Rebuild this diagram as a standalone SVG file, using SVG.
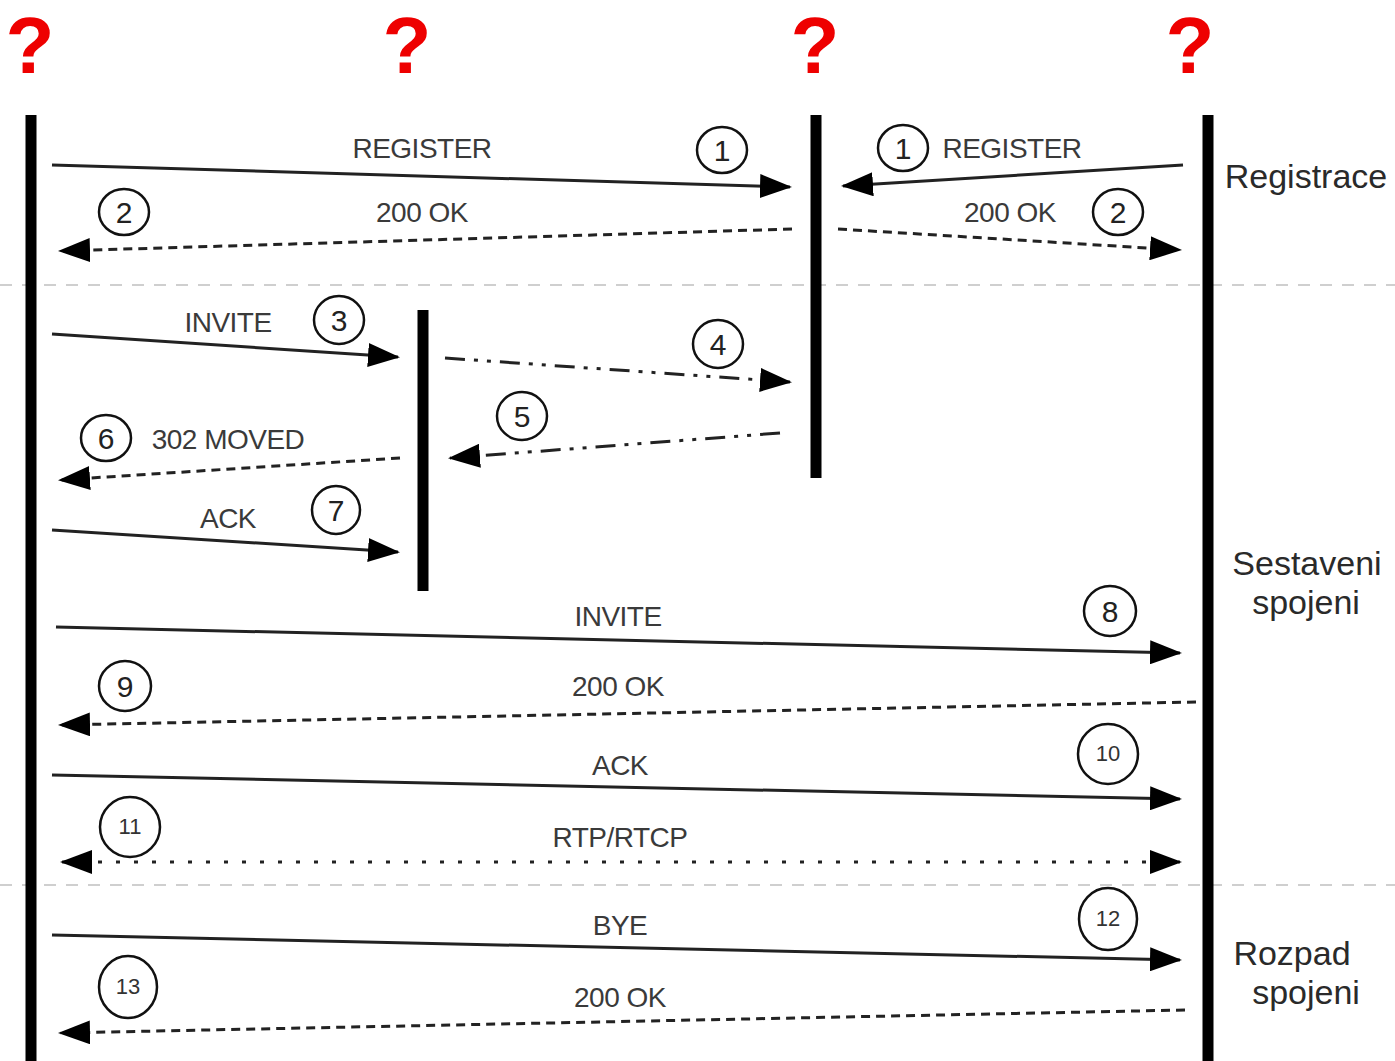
<svg xmlns="http://www.w3.org/2000/svg" width="1395" height="1061" viewBox="0 0 1395 1061">
<style>
.q{font-family:"Liberation Sans",Arial,sans-serif;font-weight:bold;font-size:80px;fill:#ee0000;text-anchor:middle}
.life{stroke:#000;stroke-width:11;fill:none}
.sep{stroke:#cfcfcf;stroke-width:2;stroke-dasharray:12 10;fill:none}
.msg{stroke:#222;stroke-width:3;fill:none}
.dash{stroke-dasharray:9 6}
.dd{stroke-dasharray:20 9 4 9 4 9}
.dot{stroke-dasharray:4 14}
.lbl{font-family:"Liberation Sans",Arial,sans-serif;font-size:28px;fill:#3a3a3a;text-anchor:middle;letter-spacing:-0.5px}
.num{font-family:"Liberation Sans",Arial,sans-serif;font-size:30px;fill:#222;text-anchor:middle}
.num2{font-family:"Liberation Sans",Arial,sans-serif;font-size:22px;fill:#333;text-anchor:middle}
.circ{fill:#fff;stroke:#111;stroke-width:2.5}
.side{font-family:"Liberation Sans",Arial,sans-serif;font-size:34px;fill:#2a2a2a;text-anchor:middle}
</style>
<defs>
<marker id="ah" markerUnits="userSpaceOnUse" markerWidth="32" markerHeight="24" refX="30" refY="12" orient="auto-start-reverse">
<path d="M0,0 L32,12 L0,24 Z" fill="#000"/>
</marker>
</defs>
<rect width="1395" height="1061" fill="#fff"/>

<g id="headers">
<text class="q" x="30" y="73">?</text>
<text class="q" x="407" y="73">?</text>
<text class="q" x="815" y="73">?</text>
<text class="q" x="1190" y="73">?</text>
</g>

<g id="separators">
<line class="sep" x1="0" y1="285" x2="1395" y2="285"/>
<line class="sep" x1="0" y1="885" x2="1395" y2="885"/>
</g>

<g id="lifeline-1"><line class="life" x1="31" y1="115" x2="31" y2="1061"/></g>
<g id="lifeline-2"><line class="life" x1="423" y1="310" x2="423" y2="591"/></g>
<g id="lifeline-3"><line class="life" x1="816" y1="115" x2="816" y2="478"/></g>
<g id="lifeline-4"><line class="life" x1="1208" y1="115" x2="1208" y2="1061"/></g>

<g id="phase-labels">
<text class="side" x="1306" y="188">Registrace</text>
<text class="side" x="1307" y="575">Sestaveni</text>
<text class="side" x="1306" y="614">spojeni</text>
<text class="side" x="1292" y="965">Rozpad</text>
<text class="side" x="1306" y="1004">spojeni</text>
</g>

<g id="connectors">
<line class="msg" x1="52" y1="165" x2="790" y2="187" marker-end="url(#ah)"/>
<line class="msg" x1="1183" y1="165" x2="843" y2="186" marker-end="url(#ah)"/>
<line class="msg dash" x1="792" y1="229" x2="60" y2="251" marker-end="url(#ah)"/>
<line class="msg dash" x1="838" y1="229" x2="1180" y2="250" marker-end="url(#ah)"/>
<line class="msg" x1="52" y1="334" x2="398" y2="357" marker-end="url(#ah)"/>
<line class="msg dd" x1="445" y1="358" x2="790" y2="382" marker-end="url(#ah)"/>
<line class="msg dd" x1="780" y1="433" x2="450" y2="458" marker-end="url(#ah)"/>
<line class="msg dash" x1="400" y1="458" x2="60" y2="480" marker-end="url(#ah)"/>
<line class="msg" x1="52" y1="530" x2="398" y2="552" marker-end="url(#ah)"/>
<line class="msg" x1="56" y1="627" x2="1180" y2="653" marker-end="url(#ah)"/>
<line class="msg dash" x1="1196" y1="702" x2="60" y2="725" marker-end="url(#ah)"/>
<line class="msg" x1="52" y1="775" x2="1180" y2="799" marker-end="url(#ah)"/>
<line class="msg dot" x1="62" y1="862" x2="1180" y2="862" marker-start="url(#ah)" marker-end="url(#ah)"/>
<line class="msg" x1="52" y1="935" x2="1180" y2="960" marker-end="url(#ah)"/>
<line class="msg dash" x1="1185" y1="1010" x2="60" y2="1033" marker-end="url(#ah)"/>
</g>

<g id="message-labels">
<text class="lbl" x="422" y="158">REGISTER</text>
<text class="lbl" x="1012" y="158">REGISTER</text>
<text class="lbl" x="422" y="222">200 OK</text>
<text class="lbl" x="1010" y="222">200 OK</text>
<text class="lbl" x="228" y="332">INVITE</text>
<text class="lbl" x="228" y="449">302 MOVED</text>
<text class="lbl" x="228" y="528">ACK</text>
<text class="lbl" x="618" y="626">INVITE</text>
<text class="lbl" x="618" y="696">200 OK</text>
<text class="lbl" x="620" y="775">ACK</text>
<text class="lbl" x="620" y="847">RTP/RTCP</text>
<text class="lbl" x="620" y="935">BYE</text>
<text class="lbl" x="620" y="1007">200 OK</text>
</g>

<g id="step-numbers">
<g id="n1a"><ellipse class="circ" cx="722" cy="150" rx="25" ry="23"/><text class="num" x="722" y="161">1</text></g>
<g id="n1b"><ellipse class="circ" cx="903" cy="148" rx="25" ry="23"/><text class="num" x="903" y="159">1</text></g>
<g id="n2a"><ellipse class="circ" cx="124" cy="212" rx="25" ry="23"/><text class="num" x="124" y="223">2</text></g>
<g id="n2b"><ellipse class="circ" cx="1118" cy="212" rx="25" ry="23"/><text class="num" x="1118" y="223">2</text></g>
<g id="n3"><ellipse class="circ" cx="339" cy="320" rx="25" ry="24"/><text class="num" x="339" y="331">3</text></g>
<g id="n4"><ellipse class="circ" cx="718" cy="344" rx="25" ry="24"/><text class="num" x="718" y="355">4</text></g>
<g id="n5"><ellipse class="circ" cx="522" cy="416" rx="25" ry="24"/><text class="num" x="522" y="427">5</text></g>
<g id="n6"><ellipse class="circ" cx="106" cy="438" rx="25" ry="23"/><text class="num" x="106" y="449">6</text></g>
<g id="n7"><ellipse class="circ" cx="336" cy="510" rx="24" ry="24"/><text class="num" x="336" y="521">7</text></g>
<g id="n8"><ellipse class="circ" cx="1110" cy="611" rx="26" ry="25"/><text class="num" x="1110" y="622">8</text></g>
<g id="n9"><ellipse class="circ" cx="125" cy="686" rx="26" ry="25"/><text class="num" x="125" y="697">9</text></g>
<g id="n10"><ellipse class="circ" cx="1108" cy="754" rx="30" ry="30"/><text class="num2" x="1108" y="761">10</text></g>
<g id="n11"><ellipse class="circ" cx="130" cy="827" rx="30" ry="30"/><text class="num2" x="130" y="834">11</text></g>
<g id="n12"><ellipse class="circ" cx="1108" cy="919" rx="29" ry="31"/><text class="num2" x="1108" y="926">12</text></g>
<g id="n13"><ellipse class="circ" cx="128" cy="987" rx="29" ry="31"/><text class="num2" x="128" y="994">13</text></g>
</g>
</svg>
